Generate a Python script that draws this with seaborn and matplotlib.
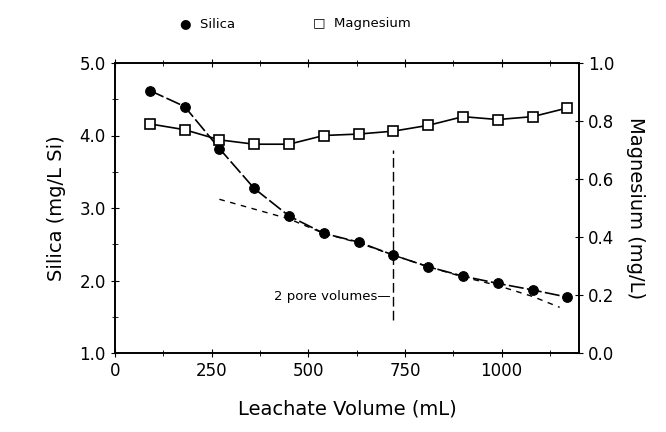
import numpy as np
import pandas as pd
import seaborn as sns
import matplotlib.pyplot as plt
from matplotlib.ticker import MultipleLocator

volume = [90, 180, 270, 360, 450, 540, 630, 720, 810, 900, 990, 1080, 1170]
silica = [4.62, 4.40, 3.82, 3.27, 2.89, 2.65, 2.53, 2.35, 2.19, 2.06, 1.96, 1.87, 1.77]
magnesium = [0.79, 0.77, 0.735, 0.72, 0.72, 0.75, 0.755, 0.765, 0.785, 0.815, 0.805, 0.815, 0.845]
trend_x = [270, 450, 540, 630, 720, 810, 900, 990, 1080, 1150]
trend_y = [3.12, 2.85, 2.65, 2.52, 2.35, 2.19, 2.05, 1.93, 1.78, 1.63]

df = pd.DataFrame({"volume": volume, "silica": silica, "magnesium": magnesium})

sns.set_style("ticks")
plt.rcParams["font.family"] = ["DejaVu Sans"]
plt.rcParams["text.color"] = "black"
plt.rcParams["axes.labelcolor"] = "black"
plt.rcParams["xtick.color"] = "black"
plt.rcParams["ytick.color"] = "black"

fig = plt.figure(figsize=(6.66, 4.32), dpi=100)
ax = fig.add_axes([115 / 666, 79 / 432, 464 / 666, 290 / 432])
ax2 = ax.twinx()

sns.lineplot(data=df, x="volume", y="silica", ax=ax, color="black", lw=1.2,
             marker="o", markersize=7, markeredgecolor="black", dashes=[(9, 2)], style=[0] * len(df),
             legend=False)
ax.plot(trend_x, trend_y, color="black", lw=1, ls=(0, (4, 4)))
ax.plot([720, 720], [1.45, 3.8], color="black", lw=1, ls=(0, (7, 3)))
ax.text(712, 1.78, "2 pore volumes\u2014", ha="right", va="center", fontsize=9.5)

sns.lineplot(data=df, x="volume", y="magnesium", ax=ax2, color="black", lw=1.2,
             marker="s", markersize=7.5, markerfacecolor="white", markeredgecolor="black",
             markeredgewidth=1.2, legend=False)

ax.set_xlim(0, 1200)
ax.set_ylim(1.0, 5.0)
ax2.set_ylim(0.0, 1.0)
ax.xaxis.set_major_locator(MultipleLocator(250))
ax.xaxis.set_minor_locator(MultipleLocator(125))
ax.yaxis.set_major_locator(MultipleLocator(1.0))
ax.yaxis.set_minor_locator(MultipleLocator(0.5))
ax2.yaxis.set_major_locator(MultipleLocator(0.2))
ax.set_yticklabels([f"{v:.1f}" for v in ax.get_yticks()])
ax2.set_yticklabels([f"{v:.1f}" for v in ax2.get_yticks()])

ax.tick_params(axis="both", which="both", direction="inout", top=True, labelsize=12, length=6)
ax.tick_params(which="minor", length=4)
ax2.tick_params(axis="y", direction="inout", labelsize=12, length=6)
for a in (ax, ax2):
    for s in a.spines.values():
        s.set_linewidth(1.2)
        s.set_color("black")

ax.set_xlabel("Leachate Volume (mL)", fontsize=14, labelpad=14)
ax.set_ylabel("Silica (mg/L Si)", fontsize=14, labelpad=10)
ax2.set_ylabel("Magnesium (mg/L)", fontsize=14, rotation=270, labelpad=22)

fig.text(0.27, 0.945, "\u25CF  Silica", ha="left", va="center", fontsize=9.5)
fig.text(0.47, 0.945, "\u25A1  Magnesium", ha="left", va="center", fontsize=9.5)

fig.savefig("out.png", dpi=100)
